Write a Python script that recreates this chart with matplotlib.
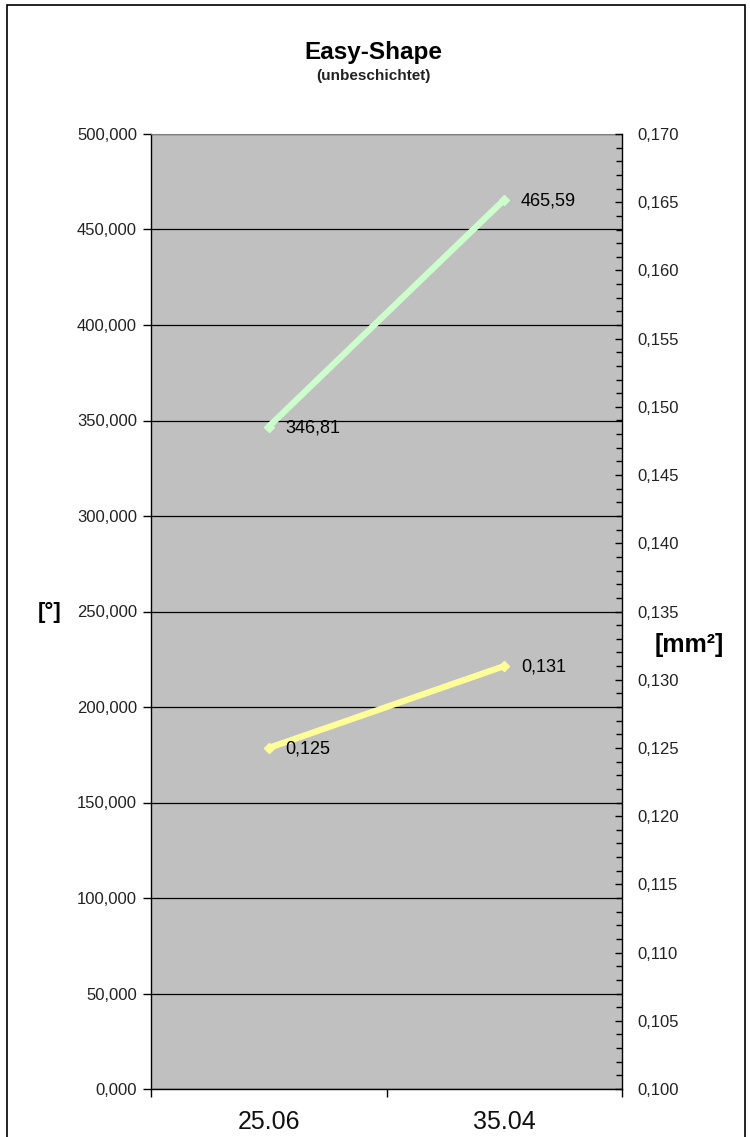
import matplotlib
matplotlib.use("Agg")
import matplotlib.pyplot as plt
from matplotlib.ticker import MultipleLocator, FuncFormatter
from matplotlib.patches import Rectangle

plt.rcParams['font.family'] = ['Liberation Sans', 'DejaVu Sans']

categories = ["25.06", "35.04"]
angle_values = [346.81, 465.59]      # [°], left axis
area_values = [0.125, 0.131]         # [mm²], right axis
angle_labels = ["346,81", "465,59"]
area_labels = ["0,125", "0,131"]

W, H = 750, 1137
fig = plt.figure(figsize=(W / 100, H / 100), dpi=100)
fig.patch.set_facecolor("white")

# outer chart frame
fig.add_artist(Rectangle((7 / W, -0.01), (745 - 7) / W, 1.01 - 5 / H,
                         transform=fig.transFigure, fill=False,
                         edgecolor="black", linewidth=1.2))

left, right, top, bottom = 151, 622, 134, 1089
ax = fig.add_axes([left / W, 1 - bottom / H, (right - left) / W, (bottom - top) / H])
ax.set_facecolor("#C0C0C0")

fmt = FuncFormatter(lambda v, p: f"{v:.3f}".replace(".", ","))
tick_fs = 12

x = [0, 1]
ax.set_xlim(-0.5, 1.5)
ax.set_ylim(0, 500)
ax.yaxis.set_major_locator(MultipleLocator(50))
ax.yaxis.set_major_formatter(fmt)
ax.grid(axis="y", color="black", linewidth=0.9)
ax.set_axisbelow(True)

ax.set_xticks(x)
ax.set_xticklabels(categories, fontsize=18, color="#111111")
ax.set_xticks([-0.5, 0.5, 1.5], minor=True)
ax.tick_params(axis="x", which="major", length=0, pad=15)
ax.tick_params(axis="x", which="minor", length=6, width=1, color="black")
ax.tick_params(axis="y", which="major", length=6, width=1, labelsize=tick_fs,
               colors="black", labelcolor="#222222", pad=4)

for side in ["left", "bottom"]:
    ax.spines[side].set_color("black")
    ax.spines[side].set_linewidth(1.0)
ax.spines["top"].set_color("#808080")
ax.spines["right"].set_visible(False)

ax.plot(x, angle_values, color="#CCFFCC", linewidth=4.5, marker="D",
        markersize=5, solid_capstyle="butt", zorder=3)
for xi, yi, lab in zip(x, angle_values, angle_labels):
    ax.annotate(lab, (xi, yi), xytext=(12, -1), textcoords="offset points",
                fontsize=13, color="black", va="center", ha="left")

ax2 = ax.twinx()
ax2.set_ylim(0.100, 0.170)
ax2.yaxis.set_major_locator(MultipleLocator(0.005))
ax2.yaxis.set_minor_locator(MultipleLocator(0.001))
ax2.yaxis.set_major_formatter(fmt)
ax2.tick_params(axis="y", which="major", direction="in", length=5, width=1,
                labelsize=tick_fs, labelcolor="#222222", pad=11)
ax2.tick_params(axis="y", which="minor", direction="in", length=4, width=1)
ax2.spines["right"].set_color("black")
ax2.spines["right"].set_linewidth(1.0)
for side in ["left", "bottom", "top"]:
    ax2.spines[side].set_visible(False)

ax2.plot(x, area_values, color="#FFFF99", linewidth=4.5, marker="D",
         markersize=5, solid_capstyle="butt", zorder=3)
for xi, yi, lab in zip(x, area_values, area_labels):
    ax2.annotate(lab, (xi, yi), xytext=(12, -1), textcoords="offset points",
                 fontsize=13, color="black", va="center", ha="left")

fig.text(373 / W, 1 - 52 / H, "Easy-Shape", fontsize=17.5, fontweight="bold",
         ha="center", va="center")
fig.text(373 / W, 1 - 76 / H, "(unbeschichtet)", fontsize=11, fontweight="bold",
         ha="center", va="center", color="#222222")
fig.text(50 / W, 1 - 612 / H, "[°]", fontsize=16, fontweight="bold",
         ha="center", va="center")
fig.text(689 / W, 1 - 645 / H, "[mm²]", fontsize=18, fontweight="bold",
         ha="center", va="center")

fig.savefig("out.png", dpi=100)
